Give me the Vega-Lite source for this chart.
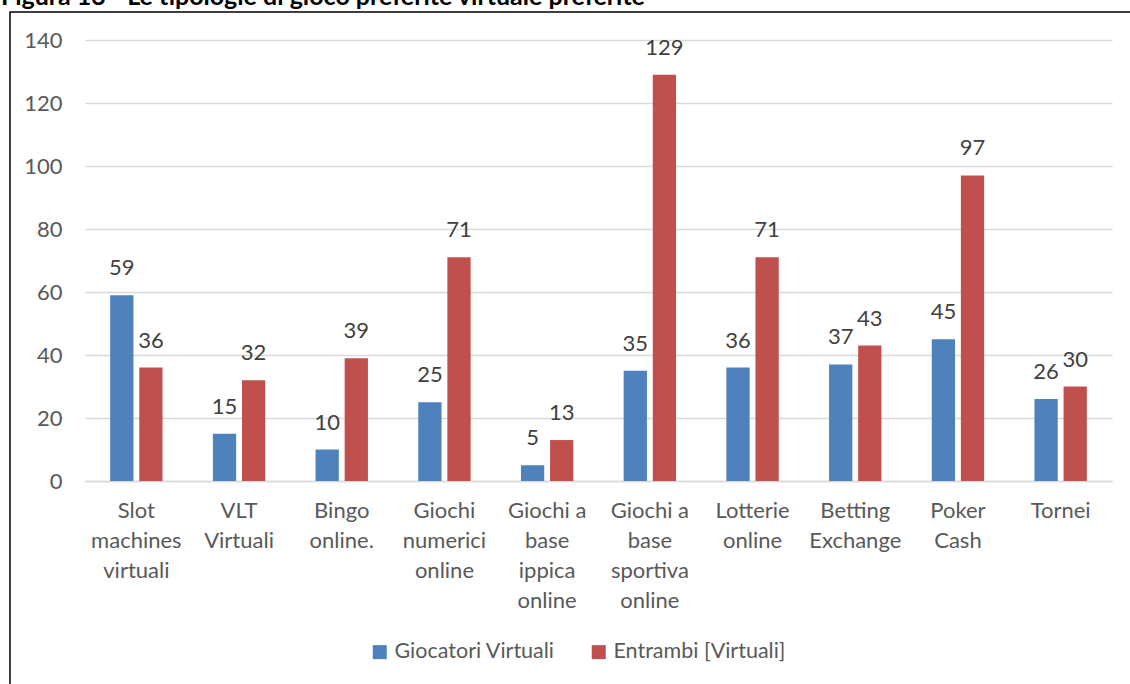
{
  "$schema": "https://vega.github.io/schema/vega-lite/v6.json",
  "autosize": {"type": "none"},
  "padding": {"left": 10, "top": 12, "right": 0, "bottom": 0},
  "width": 1124,
  "height": 676,
  "title": {"text": "Figura 13 - Le tipologie di gioco preferite virtuale preferite", "anchor": "start", "dx": -9, "offset": -18, "baseline": "alphabetic", "font": "Lato", "fontSize": 25, "fontWeight": "bold", "color": "#000000"},
  "config": {"view": {"stroke": "#000000", "strokeWidth": 1.5}},
  "data": {"values": [
    {"cat": "Slot|machines|virtuali", "serie": "Giocatori Virtuali", "val": 59},
    {"cat": "Slot|machines|virtuali", "serie": "Entrambi [Virtuali]", "val": 36},
    {"cat": "VLT|Virtuali", "serie": "Giocatori Virtuali", "val": 15},
    {"cat": "VLT|Virtuali", "serie": "Entrambi [Virtuali]", "val": 32},
    {"cat": "Bingo|online.", "serie": "Giocatori Virtuali", "val": 10},
    {"cat": "Bingo|online.", "serie": "Entrambi [Virtuali]", "val": 39},
    {"cat": "Giochi|numerici|online", "serie": "Giocatori Virtuali", "val": 25},
    {"cat": "Giochi|numerici|online", "serie": "Entrambi [Virtuali]", "val": 71},
    {"cat": "Giochi a|base|ippica|online", "serie": "Giocatori Virtuali", "val": 5},
    {"cat": "Giochi a|base|ippica|online", "serie": "Entrambi [Virtuali]", "val": 13},
    {"cat": "Giochi a|base|sportiva|online", "serie": "Giocatori Virtuali", "val": 35},
    {"cat": "Giochi a|base|sportiva|online", "serie": "Entrambi [Virtuali]", "val": 129},
    {"cat": "Lotterie|online", "serie": "Giocatori Virtuali", "val": 36},
    {"cat": "Lotterie|online", "serie": "Entrambi [Virtuali]", "val": 71},
    {"cat": "Betting|Exchange", "serie": "Giocatori Virtuali", "val": 37},
    {"cat": "Betting|Exchange", "serie": "Entrambi [Virtuali]", "val": 43},
    {"cat": "Poker|Cash", "serie": "Giocatori Virtuali", "val": 45},
    {"cat": "Poker|Cash", "serie": "Entrambi [Virtuali]", "val": 97},
    {"cat": "Tornei", "serie": "Giocatori Virtuali", "val": 26},
    {"cat": "Tornei", "serie": "Entrambi [Virtuali]", "val": 30}
  ]},
  "encoding": {
    "x": {
      "field": "cat", "type": "nominal", "sort": null,
      "scale": {"range": [75, 1102], "paddingInner": 0.49, "paddingOuter": 0.245},
      "axis": {"title": null, "orient": "bottom", "offset": -207, "domain": true, "domainColor": "#d9d9d9", "domainWidth": 1.3, "ticks": false, "labelPadding": 19, "labelAngle": 0, "labelExpr": "split(datum.value, '|')", "labelLineHeight": 30, "labelFont": "Lato", "labelFontSize": 22, "labelColor": "#595959", "labelBaseline": "top", "labelLimit": 0, "labelOverlap": false, "labelBound": false, "grid": false}
    },
    "xOffset": {"field": "serie", "type": "nominal", "sort": null, "scale": {"paddingInner": 0.2}},
    "y": {
      "field": "val", "type": "quantitative",
      "scale": {"domain": [0, 140], "range": [469, 28], "nice": false},
      "axis": {"title": null, "values": [0, 20, 40, 60, 80, 100, 120, 140], "domain": false, "ticks": false, "offset": -52, "labelPadding": 0, "labelFont": "Lato", "labelFontSize": 22, "labelColor": "#595959", "grid": true, "gridColor": "#d9d9d9", "gridWidth": 1.3}
    }
  },
  "layer": [
    {
      "mark": {"type": "bar"},
      "encoding": {
        "color": {
          "field": "serie", "type": "nominal",
          "scale": {"domain": ["Giocatori Virtuali", "Entrambi [Virtuali]"], "range": ["#4f81bd", "#c0504d"]},
          "legend": {"orient": "none", "legendX": 359, "legendY": 629, "direction": "horizontal", "title": null, "symbolType": "square", "symbolSize": 196, "symbolStrokeWidth": 0, "labelFont": "Lato", "labelFontSize": 21.5, "labelColor": "#595959", "labelLimit": 0, "columnPadding": 33, "labelOffset": 4}
        }
      }
    },
    {
      "mark": {"type": "text", "baseline": "middle", "dy": -27, "font": "Lato", "fontSize": 22, "color": "#404040"},
      "encoding": {"text": {"field": "val", "type": "quantitative"}}
    }
  ]
}
